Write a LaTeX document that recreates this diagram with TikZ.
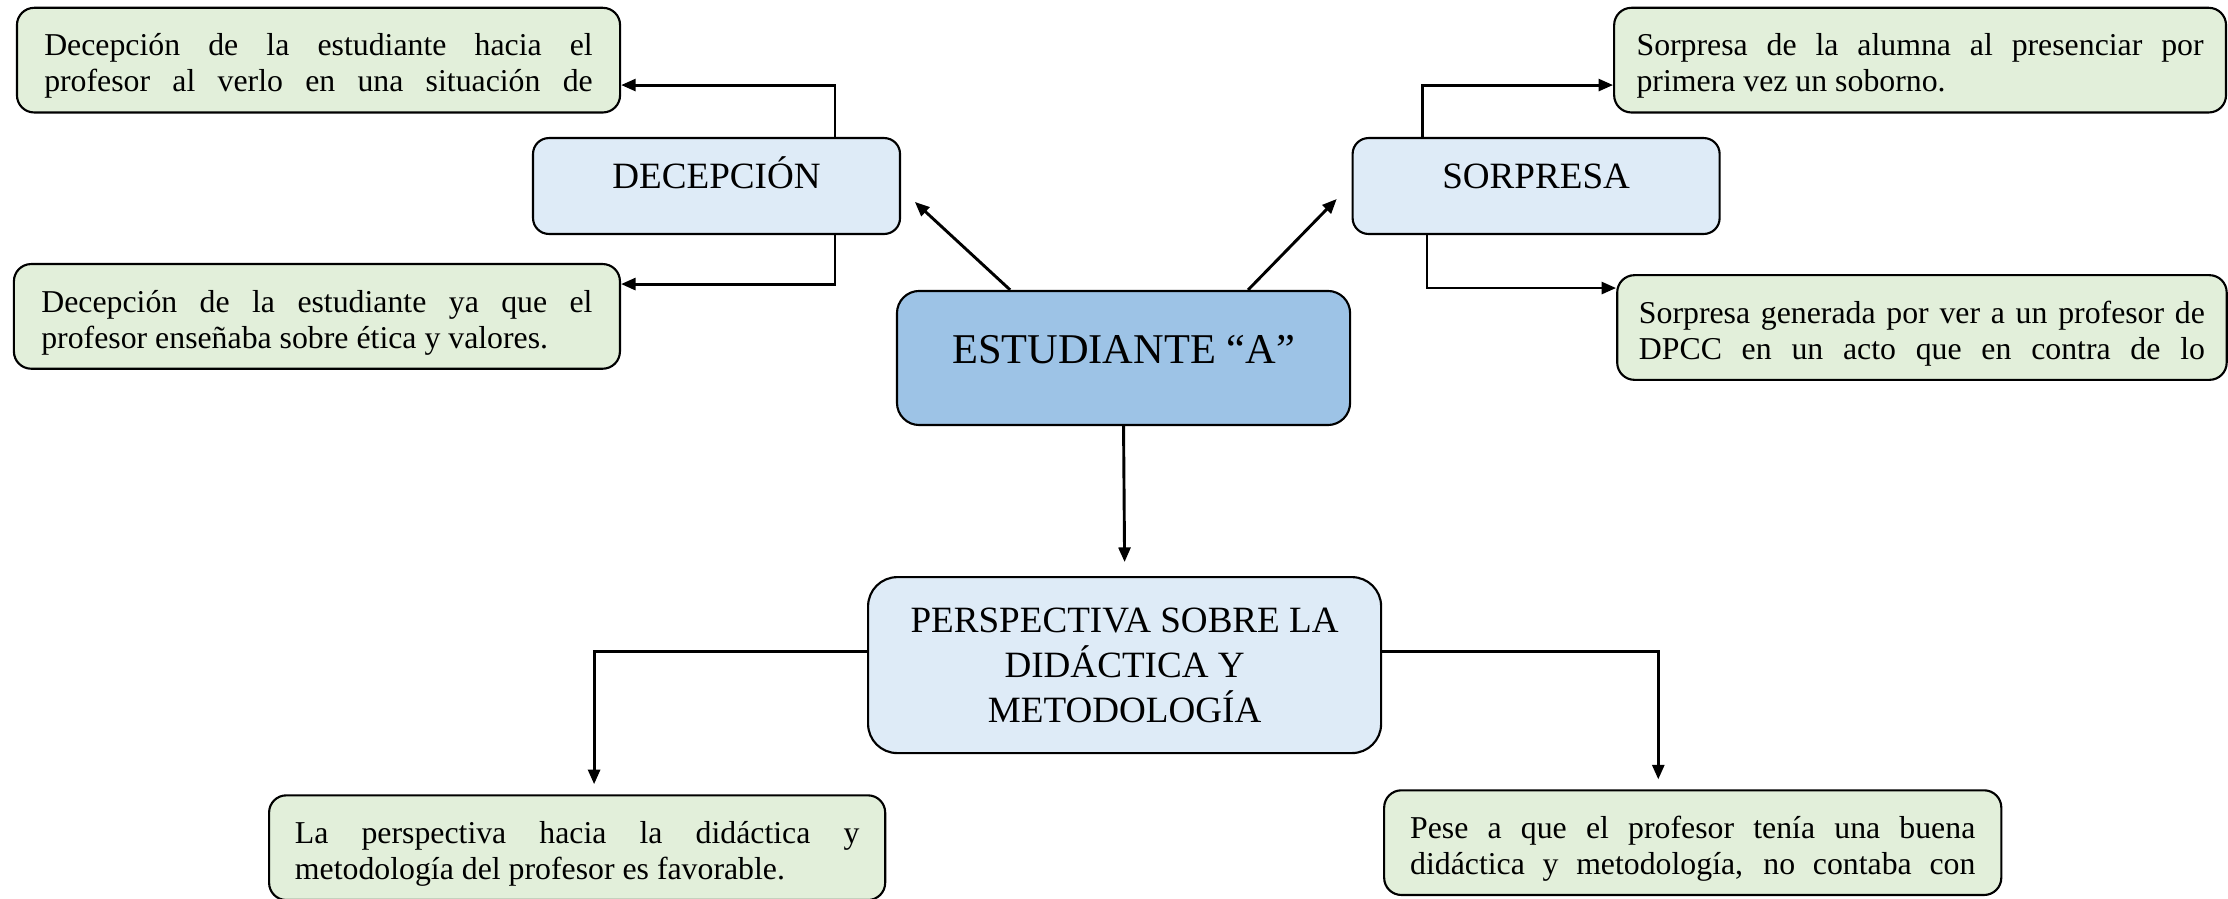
\documentclass[tikz,border=0pt]{standalone}
\usepackage{fontspec}
\setmainfont{Liberation Serif}
\usetikzlibrary{arrows.meta}

\definecolor{ideagreen}{HTML}{E2EFDA}
\definecolor{topicblue}{HTML}{DEEBF7}
\definecolor{mainblue}{HTML}{9DC3E6}

\newcommand{\fullline}[1]{{\parfillskip=0pt\relax\noindent #1\par}}

\begin{document}
\begin{tikzpicture}[x=1pt, y=-1pt,
    box/.style={draw, line width=0.8pt, inner sep=0pt},
    idea/.style 2 args={box, fill=ideagreen, rounded corners=6.5pt, minimum width=#1, text width=#2, minimum height=39.5pt, align=justify, font=\fontsize{12}{13.6}\selectfont, text height=13pt},
    topic/.style={box, fill=topicblue, rounded corners=6pt, minimum width=138.5pt, minimum height=36.2pt, font=\fontsize{14}{16.8}\selectfont, text height=10pt, text depth=8.4pt},
    link/.style={line width=1.1pt, -{Triangle[length=5.5pt, width=4.5pt]}}
]
\useasboundingbox (0,0) rectangle (840.8,338.9);

% centro
\node[box, fill=mainblue, rounded corners=8.4pt, minimum width=171pt, minimum height=50.6pt, font=\fontsize{16}{19}\selectfont, text height=12pt, text depth=7.8pt] (est) at (424,135.1) {ESTUDIANTE “A”};

\node[topic] (dec) at (270.4,70.2) {DECEPCIÓN};
\node[topic] (sor) at (579.7,70.2) {SORPRESA};
\node[box, fill=topicblue, rounded corners=11pt, minimum width=193.6pt, minimum height=66.4pt, align=center, font=\fontsize{14}{17}\selectfont] (pers) at (424.4,251) {PERSPECTIVA SOBRE LA\\DIDÁCTICA Y\\METODOLOGÍA};

% hojas
\node[idea={227.6pt}{207pt}] (dec1) at (120.2,22.7) {\fullline{Decepción de la estudiante hacia el}\fullline{profesor al verlo en una situación de}};
\node[idea={228.7pt}{208pt}] (dec2) at (119.6,119.4) {\fullline{Decepción de la estudiante ya que el}profesor enseñaba sobre ética y valores.};
\node[idea={230.9pt}{214pt}] (sor1) at (724.6,22.7) {\fullline{Sorpresa de la alumna al presenciar por}primera vez un soborno.};
\node[idea={230pt}{213.6pt}] (sor2) at (725.3,123.6) {\fullline{Sorpresa generada por ver a un profesor de}\fullline{DPCC en un acto que en contra de lo}};
\node[idea={232.5pt}{213pt}] (per1) at (217.8,319.9) {\fullline{La perspectiva hacia la didáctica y}metodología del profesor es favorable.};
\node[idea={232.9pt}{213.3pt}] (per2) at (638.8,318) {\fullline{Pese a que el profesor tenía una buena}\fullline{didáctica y metodología, no contaba con}};

% flechas
\draw[link] ([xshift=-42.8pt]est.north) -- ([xshift=5.2pt,yshift=-6pt]dec.east);
\draw[link] ([xshift=47pt]est.north) -- ([xshift=-5.6pt,yshift=-4.9pt]sor.west);
\draw[link] (est.south) -- ([yshift=5.3pt]pers.north);
\draw[link] ([xshift=44.7pt]dec.north) |- ([yshift=-9.4pt]dec1.east);
\draw[link] ([xshift=44.7pt]dec.south) |- ([yshift=12.2pt]dec2.east);
\draw[link] ([xshift=-43pt]sor.north) |- ([yshift=-9.4pt]sor1.west);
\draw[link] ([xshift=-41.2pt]sor.south) |- ([yshift=14.9pt]sor2.west);
\draw[link] ([yshift=5.3pt]pers.west) -| ([xshift=6.4pt,yshift=3.8pt]per1.north);
\draw[link] ([yshift=5.3pt]pers.east) -| ([xshift=-13pt,yshift=3.7pt]per2.north);
\end{tikzpicture}
\end{document}
